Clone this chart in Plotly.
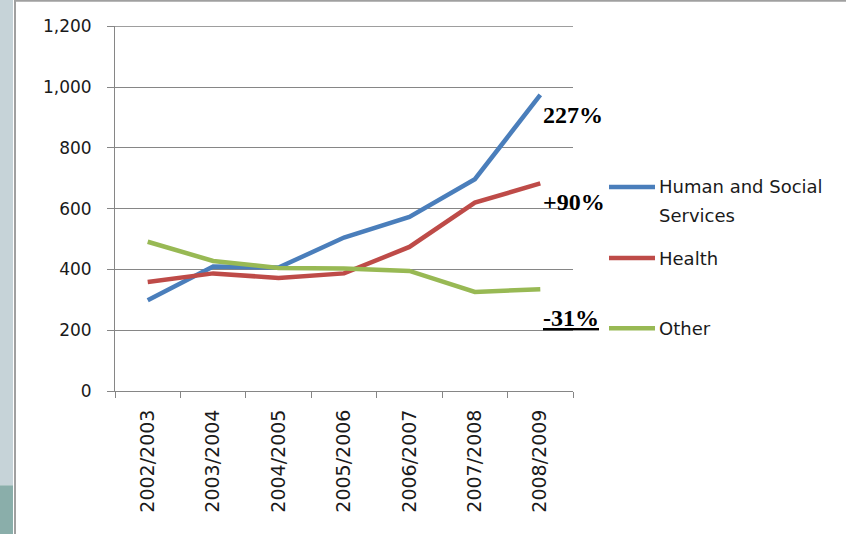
import plotly.graph_objects as go

years = ["2002/2003", "2003/2004", "2004/2005", "2005/2006", "2006/2007", "2007/2008", "2008/2009"]
hss = [299, 410, 406, 505, 573, 697, 974]
health = [359, 387, 372, 387, 474, 620, 683]
other = [491, 428, 405, 403, 395, 326, 335]
y_ticks = [0, 200, 400, 600, 800, 1000, 1200]
y_tick_text = ["0", "200", "400", "600", "800", "1,000", "1,200"]

names = ["Human and Social Services", "Health", "Other"]
legend_lines = [["Human and Social", "Services"], ["Health"], ["Other"]]
colors = ["#4a7ebb", "#be4b48", "#98b954"]
pct_labels = ["227%", "+90%", "<u>-31%</u>"]

W, H = 846, 534
L, R, T, B = 115, 273, 26.2, 143.2
PW, PH = W - L - R, H - T - B
Y_MAX = 1201


def px(x):
    return (x - L) / PW


def py(y):
    return 1 - (y - T) / PH


fig = go.Figure()
for vals, nm, col in zip([hss, health, other], names, colors):
    fig.add_trace(go.Scatter(x=years, y=vals, mode="lines", name=nm,
                             line=dict(color=col, width=4.5), showlegend=False))

shapes = []
# left decorative strip
shapes.append(dict(type="rect", xref="paper", yref="paper", x0=px(0), x1=px(13), y0=py(485), y1=py(0),
                   fillcolor="#c6d3d8", line=dict(width=0), layer="below"))
shapes.append(dict(type="rect", xref="paper", yref="paper", x0=px(0), x1=px(13), y0=py(534), y1=py(485),
                   fillcolor="#8aaeaa", line=dict(width=0), layer="below"))
# frame border
shapes.append(dict(type="line", xref="paper", yref="paper", x0=px(15), x1=px(15), y0=py(0), y1=py(534),
                   line=dict(color="#a0a0a0", width=2)))
shapes.append(dict(type="line", xref="paper", yref="paper", x0=px(15), x1=px(846), y0=py(1), y1=py(1),
                   line=dict(color="#a0a0a0", width=2)))
# top gridline + tick at the maximum tick value
shapes.append(dict(type="line", xref="paper", yref="y", x0=px(108), x1=1, y0=y_ticks[-1], y1=y_ticks[-1],
                   line=dict(color="#868686", width=1), layer="below"))

# manual legend
leg_y = [187, 258, 328]
annotations = []
for yy, lines, col in zip(leg_y, legend_lines, colors):
    shapes.append(dict(type="line", xref="paper", yref="paper", x0=px(609), x1=px(655), y0=py(yy), y1=py(yy),
                       line=dict(color=col, width=4.5)))
    for k, ln in enumerate(lines):
        annotations.append(dict(x=px(657), y=py(yy + 28 * k), xref="paper", yref="paper", text=ln,
                                showarrow=False, xanchor="left", yanchor="middle", align="left",
                                font=dict(family="DejaVu Sans", size=18, color="#1a1a1a")))

# percent labels
pct_y = [115, 202, 318]
for yy, t in zip(pct_y, pct_labels):
    annotations.append(dict(x=px(541), y=py(yy), xref="paper", yref="paper", text="<b>" + t + "</b>",
                            showarrow=False, xanchor="left", yanchor="middle",
                            font=dict(family="Liberation Serif", size=24, color="#000000")))

fig.update_layout(
    width=W, height=H,
    margin=dict(l=L, r=R, t=T, b=B, pad=0),
    paper_bgcolor="white", plot_bgcolor="white",
    shapes=shapes, annotations=annotations,
    xaxis=dict(type="category", showgrid=False, showline=True, linecolor="#868686", linewidth=1,
               ticks="outside", ticklen=6, tickcolor="#868686", tickson="boundaries",
               tickangle=-90, tickfont=dict(family="DejaVu Sans", size=19, color="#1a1a1a"),
               ticklabelstandoff=10, range=[-0.5, 6.5]),
    yaxis=dict(range=[0, Y_MAX], tickvals=y_ticks, ticktext=y_tick_text, showgrid=True,
               gridcolor="#868686", gridwidth=1, showline=True, linecolor="#868686", linewidth=1,
               ticks="outside", ticklen=7, tickcolor="#868686", zeroline=False,
               ticklabelstandoff=12,
               tickfont=dict(family="DejaVu Sans", size=17, color="#1a1a1a")),
)

fig.write_html("out.html", config={"displayModeBar": False},
               post_script="document.body.style.margin='0';document.body.style.padding='0';document.documentElement.style.overflow='hidden';")
